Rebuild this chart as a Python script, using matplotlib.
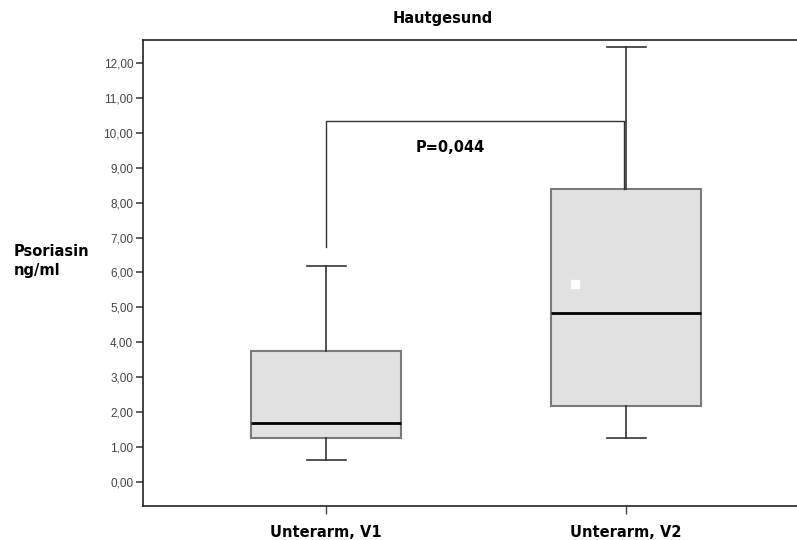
import matplotlib
matplotlib.use('Agg')
import matplotlib.pyplot as plt

# Werte
gruppen = ['Unterarm, V1', 'Unterarm, V2']
whisker_unten = [0.61, 1.25]
q1 = [1.25, 2.18]
median = [1.68, 4.84]
q3 = [3.75, 8.39]
whisker_oben = [6.19, 12.47]
mittelwert = [None, 5.66]
p_text = 'P=0,044'
klammer_unten = [6.74, 8.39]
klammer_oben = 10.35
y_ticks = [0, 1, 2, 3, 4, 5, 6, 7, 8, 9, 10, 11, 12]

fig = plt.figure(figsize=(7.97, 5.40), dpi=100)
ax = fig.add_axes([143 / 797, 1 - 506 / 540, 1 - 143 / 797, (506 - 40) / 540])

stats = []
for i in range(len(gruppen)):
    stats.append({'label': gruppen[i], 'whislo': whisker_unten[i], 'q1': q1[i],
                  'med': median[i], 'q3': q3[i], 'whishi': whisker_oben[i], 'fliers': []})

pos = [1, 2]
ax.bxp(stats, positions=pos, widths=0.5, patch_artist=True, showfliers=False,
       boxprops=dict(facecolor='#e1e1e1', edgecolor='#7a7a7a', linewidth=1.5),
       medianprops=dict(color='black', linewidth=2),
       whiskerprops=dict(color='#333333', linewidth=1.2),
       capprops=dict(color='#333333', linewidth=1.2),
       capwidths=0.13)

# Mittelwert als weißes Quadrat
for i in range(len(gruppen)):
    if mittelwert[i] is not None:
        ax.plot(pos[i] - 0.17, mittelwert[i], 's', color='white', markersize=6)

# Signifikanzklammer
ax.plot([pos[0], pos[0], pos[1] - 0.007, pos[1] - 0.007],
        [klammer_unten[0], klammer_oben, klammer_oben, klammer_unten[1]],
        color='#333333', linewidth=1)
ax.text(1.3, 9.6, p_text, fontsize=10.5, fontweight='heavy', family='DejaVu Sans',
        ha='left', va='center')

ax.set_xlim(0.39, 2.57)
ax.set_ylim(-0.70, 12.67)
ax.set_yticks(y_ticks)
ax.set_yticklabels([f'{v:.2f}'.replace('.', ',') for v in y_ticks],
                   fontsize=8.5, family='Liberation Sans', color='#444444')
ax.set_xticks(pos)
ax.set_xticklabels(gruppen, fontsize=10.5, fontweight='heavy', family='DejaVu Sans')
ax.tick_params(axis='y', direction='out', length=5, width=1.2, color='#444444', pad=2)
ax.tick_params(axis='x', direction='out', length=6, width=1, color='#444444', pad=8)
ax.spines['right'].set_visible(False)
for s in ['left', 'top', 'bottom']:
    ax.spines[s].set_linewidth(1.2)
    ax.spines[s].set_color('#222222')

fig.text(443 / 797, 1 - 18 / 540, 'Hautgesund', fontsize=10.5, fontweight='heavy',
         family='DejaVu Sans', ha='center', va='center')
fig.text(14 / 797, 1 - 261 / 540, 'Psoriasin\nng/ml', fontsize=10.5, fontweight='heavy',
         family='DejaVu Sans', ha='left', va='center', linespacing=1.4)

fig.savefig('out.png', dpi=100)
